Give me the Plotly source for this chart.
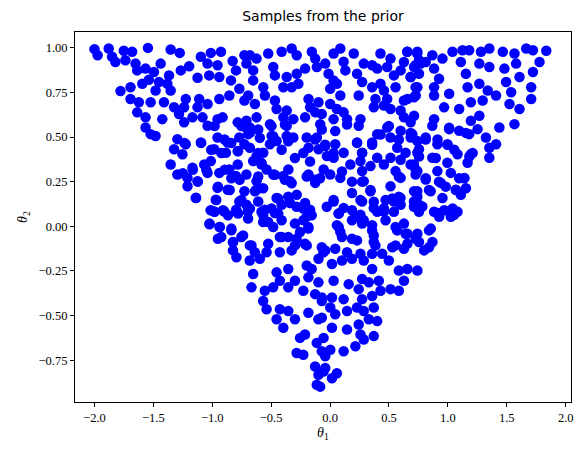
"""
Samples from the prior - scatter
"""
import plotly.graph_objects as go

# samples, grouped by region of the triangle
# upper left
ul_t1 = [-2.0, -1.973, -1.879, -1.85, -1.751, -1.68, -1.546, -1.353, -1.276, -1.822, -1.737, -1.651, -1.637,
         -1.566, -1.495, -1.438, -1.367, -1.267, -1.196, -1.097, -1.012, -0.926, -1.04, -0.955, -0.827, -0.727,
         -0.798, -1.125, -1.026, -0.94, -0.841, -1.779, -1.694, -1.594, -1.538, -1.452, -1.381, -1.694, -1.623,
         -1.523, -1.637, -1.566, -1.566, -1.523, -1.481, -1.424, -1.481, -1.353, -1.41, -1.324, -1.282, -1.225,
         -1.239, -1.168, -1.239, -1.111, -1.125, -1.04, -1.083, -1.04, -0.955, -0.912, -0.94, -0.855, -0.77,
         -0.727, -0.784, -0.713, -0.77, -0.869, -0.955, -0.983, -0.884, -0.784, -0.727, -1.296, -1.225, -1.324,
         -1.253, -1.353, -1.296, -1.168, -1.21, -1.125, -1.21, -1.097, -1.012, -1.068, -1.04, -0.94, -0.855,
         -0.784, -0.798, -0.955, -0.869, -0.97, -1.14, -0.77, -0.727, -0.983, -0.898, -0.798, -0.699]
ul_t2 = [0.992, 0.958, 0.996, 0.949, 0.983, 0.977, 0.999, 0.99, 0.971, 0.92, 0.93, 0.911, 0.873,
         0.883, 0.864, 0.911, 0.845, 0.873, 0.896, 0.949, 0.971, 0.977, 0.911, 0.902, 0.926, 0.958,
         0.873, 0.832, 0.845, 0.836, 0.817, 0.757, 0.779, 0.798, 0.821, 0.808, 0.798, 0.713, 0.695,
         0.695, 0.638, 0.61, 0.553, 0.516, 0.506, 0.6, 0.76, 0.76, 0.695, 0.667, 0.629, 0.713,
         0.667, 0.61, 0.582, 0.713, 0.667, 0.685, 0.61, 0.563, 0.6, 0.61, 0.713, 0.732, 0.77,
         0.704, 0.582, 0.553, 0.497, 0.469, 0.497, 0.431, 0.412, 0.422, 0.459, 0.488, 0.459, 0.431,
         0.403, 0.346, 0.29, 0.328, 0.271, 0.252, 0.224, 0.469, 0.365, 0.346, 0.299, 0.299, 0.318,
         0.346, 0.281, 0.215, 0.205, 0.149, 0.158, 0.139, 0.196, 0.083, 0.083, 0.092, 0.083]

# upper middle
um_t1 = [-0.681, -0.624, -0.525, -0.411, -0.326, -0.283, -0.155, -0.126, 0.03, 0.087, 0.201, 0.286, 0.428,
         0.513, 0.656, 0.741, 0.755, -0.71, -0.653, -0.482, -0.468, -0.368, -0.283, -0.212, -0.112, -0.041,
         -0.013, 0.03, 0.115, 0.13, 0.229, 0.357, 0.4, 0.485, 0.542, 0.599, 0.684, 0.713, 0.769,
         -0.653, -0.695, -0.567, -0.553, -0.397, -0.326, -0.269, -0.183, -0.098, 0.001, 0.058, 0.087, 0.243,
         0.272, 0.357, 0.428, 0.457, 0.385, 0.485, 0.556, 0.656, 0.741, 0.727, -0.638,
         -0.468, -0.454, -0.368, -0.397, -0.312, -0.368, -0.212, -0.169, -0.126, -0.07, -0.084, 0.001, 0.058,
         0.115, 0.03, 0.144, 0.258, 0.243, 0.371, 0.457, 0.513, 0.599, 0.627, 0.713, -0.71, -0.681, -0.695,
         -0.51, -0.624,
         -0.496, -0.454, -0.51, -0.567, -0.624, -0.368, -0.312, -0.198, -0.183, -0.112, -0.098, -0.041, -0.027,
         0.044, 0.03, 0.115, 0.229, 0.272, 0.357, 0.4, 0.485, 0.513, 0.599, 0.684, 0.741, 0.57, 0.641, 0.741,
         -0.681, -0.653,
         -0.582, -0.539, -0.482, -0.397, -0.34, -0.354, -0.183, -0.126, -0.055, 0.001, 0.087, 0.172, 0.258,
         0.272, 0.286, 0.343, 0.4, 0.457, 0.513, 0.556, 0.599, 0.684, 0.741, -0.71, -0.624,
         -0.638, -0.61, -0.553, -0.454, -0.411, -0.34, -0.283, -0.212, -0.169, -0.198, 0.03, 0.115, 0.186,
         0.272, 0.258, 0.343, 0.371, 0.457, 0.513, 0.542, 0.599, 0.713, 0.755, -0.71, -0.468]
um_t2 = [0.958, 0.939, 0.968, 0.977, 0.996, 0.958, 0.977, 0.939, 0.968, 0.996, 0.968, 0.911, 0.968,
         0.939, 0.977, 0.977, 0.93, 0.911, 0.873, 0.892, 0.845, 0.836, 0.854, 0.883, 0.892, 0.911,
         0.854, 0.817, 0.921, 0.873, 0.854, 0.902, 0.883, 0.892, 0.845, 0.873, 0.836, 0.892, 0.911,
         0.817, 0.732, 0.779, 0.732, 0.779, 0.779, 0.798, 0.713, 0.695, 0.77, 0.798, 0.732, 0.732,
         0.808, 0.779, 0.798, 0.76, 0.713, 0.713, 0.779, 0.713, 0.779, 0.732, 0.685,
         0.704, 0.657, 0.648, 0.61, 0.6, 0.563, 0.61, 0.667, 0.638, 0.629, 0.572, 0.685, 0.657,
         0.638, 0.6, 0.6, 0.6, 0.563, 0.667, 0.676, 0.657, 0.648, 0.61, 0.619, 0.591, 0.553, 0.516,
         0.572, 0.61,
         0.506, 0.478, 0.459, 0.412, 0.393, 0.506, 0.497, 0.497, 0.44, 0.497, 0.431, 0.45, 0.393,
         0.459, 0.384, 0.412, 0.469, 0.412, 0.469, 0.516, 0.553, 0.497, 0.535, 0.497, 0.478, 0.44, 0.412, 0.412,
         0.44, 0.365,
         0.346, 0.318, 0.29, 0.281, 0.252, 0.318, 0.29, 0.243, 0.318, 0.29, 0.271, 0.346, 0.365,
         0.309, 0.252, 0.337, 0.384, 0.346, 0.384, 0.309, 0.271, 0.346, 0.309, 0.29, 0.252,
         0.196, 0.139, 0.092, 0.158, 0.121, 0.13, 0.177, 0.13, 0.092, 0.055, 0.139, 0.102, 0.186,
         0.139, 0.064, 0.196, 0.102, 0.083, 0.224, 0.139, 0.121, 0.196, 0.121, 0.121, 0.074]

# upper right
ur_t1 = [0.655, 0.74, 0.627, 0.726, 0.812, 0.868, 0.883, 0.954, 1.039, 1.124, 1.181, 1.11, 1.153, 1.281,
         1.352, 1.267, 1.352, 1.466, 1.565, 1.665, 1.722, 1.835, 1.778, 1.579, 1.48, 1.608, 1.722, 0.684,
         0.755, 0.925, 0.883, 1.011, 1.167, 1.267, 1.338, 1.409, 1.494, 1.537, 1.707, 1.707, 1.523, 1.608,
         1.565, 1.437, 0.726, 0.712, 0.627, 0.883, 0.968, 1.096, 1.195, 1.295, 1.267, 1.195, 0.883, 0.868,
         1.011, 1.096, 1.181, 1.252, 1.323, 1.409, 1.352, 1.352, 1.195, 1.167, 1.082, 0.996, 0.911, 0.812,
         0.698, 0.684, 0.755, 0.712, 0.726, 0.868, 0.911, 0.996, 1.025, 1.139, 0.812, 0.94, 0.854, 0.954,
         1.068, 1.11, 0.74, 0.712, 0.783, 0.598, 0.911, 1.011, 1.053]
ur_t2 = [0.977, 0.968, 0.92, 0.902, 0.92, 0.958, 0.883, 0.939, 0.977, 0.986, 0.986, 0.92, 0.854, 0.977,
         0.996, 0.911, 0.892, 0.977, 0.968, 0.996, 0.986, 0.983, 0.92, 0.911, 0.883, 0.836, 0.864, 0.836,
         0.854, 0.826, 0.779, 0.742, 0.779, 0.798, 0.76, 0.732, 0.808, 0.751, 0.779, 0.713, 0.685, 0.657,
         0.572, 0.553, 0.779, 0.723, 0.704, 0.732, 0.666, 0.657, 0.695, 0.704, 0.619, 0.591, 0.6, 0.563,
         0.544, 0.535, 0.516, 0.544, 0.497, 0.459, 0.44, 0.384, 0.403, 0.356, 0.403, 0.459, 0.459, 0.497,
         0.516, 0.582, 0.431, 0.346, 0.29, 0.384, 0.309, 0.356, 0.299, 0.271, 0.262, 0.243, 0.196, 0.158,
         0.205, 0.177, 0.196, 0.139, 0.111, 0.158, 0.074, 0.083, 0.064]

# centre band, left of theta1 = 0
cl_t1 = [-1.236, -1.094, -0.98, -1.009, -0.895, -0.838, -0.781, -0.923, -0.753, -0.681, -0.61, -0.596,
         -0.61, -0.582, -0.497, -0.483, -0.383, -0.355, -0.411, -0.298, -0.227, -0.17, -0.127, -0.07, -0.042,
         -1.25, -1.165, -1.122, -1.051, -0.895, -0.838, -0.767, -0.952, -0.852, -0.61, -0.625, -0.568, -0.468,
         -0.383, -0.326, -0.198, -0.127, -0.085, -0.355, -0.44, -0.497, -0.582, -0.681, -0.753, -0.966,
         -1.137, -1.014, -0.909, -0.795, -1.023, -0.937, -0.838, -0.738, -0.923, -0.824, -0.681, -0.568,
         -0.483, -0.411, -0.284, -0.227, -0.156, -0.184, -0.255, -0.411, -0.298, -0.198, -0.07, -0.028]
cl_t2 = [0.467, 0.467, 0.561, 0.429, 0.486, 0.467, 0.42, 0.41, 0.561, 0.523, 0.542, 0.495,
         0.41, 0.354, 0.561, 0.504, 0.57, 0.476, 0.429, 0.382, 0.41, 0.363, 0.486, 0.542, 0.457,
         0.297, 0.316, 0.25, 0.316, 0.316, 0.269, 0.26, 0.222, 0.203, 0.279, 0.203, 0.213, 0.288,
         0.26, 0.241, 0.279, 0.26, 0.269, 0.166, 0.156, 0.1, 0.081, 0.1, 0.147, 0.147,
         0.16, 0.09, 0.09, 0.09, 0.015, -0.004, -0.013, -0.051, -0.06, -0.089, -0.107, 0.024,
         -0.004, 0.034, 0.109, 0.1, 0.062, -0.004, -0.032, -0.06, -0.107, -0.107, -0.117, 0.109]

# centre band, right of theta1 = 0
cr_t1 = [0.044, 0.03, 0.144, 0.229, 0.272, 0.357, 0.428, 0.499, 0.584, 0.599, 0.584, 0.684, 0.755, 0.727,
         0.812, 0.897, 0.912, 0.997, 1.054, 1.011, 1.153, 1.182, 1.21, 0.101, 0.186, 0.272, 0.343, 0.257,
         0.371, 0.471, 0.528, 0.457, 0.584, 0.812, 0.925, 0.982, 0.84, 1.096, 1.139, 1.068, 1.153, 1.04,
         0.969, 0.926, 0.883, 0.741, 0.712, 0.03, 0.073, 0.186, 0.186, 0.272, 0.357, 0.073, 0.101, 0.229,
         0.385, 0.556, 0.641, 0.727, 0.84, 0.84, 0.556]
cr_t2 = [0.533, 0.41, 0.57, 0.467, 0.41, 0.457, 0.514, 0.561, 0.486, 0.373, 0.279, 0.523, 0.391, 0.316,
         0.486, 0.382, 0.486, 0.457, 0.429, 0.552, 0.523, 0.391, 0.41, 0.307, 0.25, 0.25, 0.203, 0.147,
         0.137, 0.147, 0.156, 0.1, 0.166, 0.269, 0.25, 0.222, 0.203, 0.269, 0.269, 0.203, 0.213, 0.1,
         0.09, 0.071, 0.081, 0.166, 0.109, 0.147, 0.071, 0.09, 0.034, 0.024, -0.023, -0.004, -0.06, -0.079,
         -0.107, -0.004, -0.042, -0.07, -0.023, -0.117, -0.107]

# lower left half
ll_t1 = [-0.98, -0.866, -0.781, -0.696, -0.568, -0.44, -1.023, -0.937, -0.838, -0.952, -0.824, -0.753,
         -0.824, -0.795, -0.667, -0.639, -0.682, -0.596, -0.525, -0.539, -0.426, -0.355, -0.426, -0.326,
         -0.284, -0.213, -0.227, -0.184, -0.525, -0.298, -0.653, -0.667, -0.554, -0.483, -0.568, -0.539,
         -0.426, -0.454, -0.397, -0.355, -0.298, -0.454, -0.426, -0.355, -0.298, -0.355, -0.227, -0.184,
         -0.156, -0.099, -0.127, -0.07, -0.056, -0.198, -0.184, -0.099, -0.255, -0.213, -0.284, -0.227,
         -0.113, -0.07, -0.127, -0.099, -0.113, -0.056]
ll_t2 = [0.081, 0.062, 0.071, 0.043, 0.062, 0.071, 0.011, -0.004, -0.022, -0.07, -0.088, -0.06,
         -0.135, -0.173, -0.107, -0.145, -0.192, -0.182, -0.098, -0.145, -0.06, -0.06, -0.145, -0.135,
         -0.07, -0.098, 0.034, -0.013, 0.024, 0.015, -0.267, -0.342, -0.361, -0.342, -0.418, -0.465,
         -0.465, -0.521, -0.568, -0.474, -0.521, -0.258, -0.305, -0.239, -0.305, -0.342, -0.361, -0.286,
         -0.239, -0.314, -0.38, -0.418, -0.145, -0.22, -0.484, -0.521, -0.625, -0.606, -0.71, -0.719,
         -0.653, -0.7, -0.785, -0.832, -0.888, -0.813]

# lower right half
lr_t1 = [0.073, 0.215, 0.286, 0.4, 0.471, 0.542, 0.755, 0.926, 1.025, 1.082, 0.058, 0.087, 0.186, 0.272,
         0.357, 0.371, 0.371, 0.57, 0.627, 0.656, 0.741, 0.855, 0.755, 0.869, 0.528, 0.656, 0.627, 0.798,
         -0.041, 0.044, 0.144, 0.258, 0.357, 0.442, 0.499, -0.098, 0.016, 0.101, 0.186, 0.286, 0.357,
         0.584, 0.656, 0.741, 0.414, 0.627, 0.03, 0.158, 0.272, 0.243, 0.329, 0.428, 0.584, 0.513,
         -0.07, 0.016, 0.115, 0.272, 0.357, 0.371, 0.002, 0.044, 0.144, 0.229, 0.286, 0.329, 0.4,
         -0.07, 0.243, 0.144, 0.016, 0.258, 0.371, 0.286, 0.215, -0.055, 0.002, 0.115, -0.041, 0.058,
         0.016, -0.041, -0.084]
lr_t2 = [0.071, 0.053, 0.034, 0.081, 0.034, 0.081, 0.081, 0.053, 0.053, 0.081, 0.006, -0.032, -0.07, 0.015,
         0.006, -0.051, -0.088, -0.023, 0.015, -0.042, -0.042, -0.013, -0.088, -0.088, -0.117, -0.098, -0.126,
         -0.135, -0.135, -0.126, -0.145, -0.154, -0.154, -0.154, -0.192, -0.182, -0.211, -0.192, -0.182,
         -0.192, -0.239, -0.248, -0.239, -0.248, -0.305, -0.305, -0.305, -0.324, -0.295, -0.352, -0.314,
         -0.361, -0.361, -0.352, -0.399, -0.399, -0.408, -0.408, -0.39, -0.455, -0.455, -0.493, -0.474,
         -0.455, -0.474, -0.521, -0.531, -0.512, -0.55, -0.578, -0.568, -0.606, -0.615, -0.634, -0.672,
         -0.625, -0.691, -0.7, -0.728, -0.823, -0.851, -0.794, -0.898]

theta1 = ul_t1 + um_t1 + ur_t1 + cl_t1 + cr_t1 + ll_t1 + lr_t1
theta2 = ul_t2 + um_t2 + ur_t2 + cl_t2 + cr_t2 + ll_t2 + lr_t2

fig = go.Figure()

fig.add_trace(
    go.Scatter(x=theta1, y=theta2, mode='markers',
               marker=dict(color='#0000ff', size=10.5, line=dict(width=0)),
               showlegend=False))

axis_style = dict(showline=True, linecolor='black', linewidth=1, mirror=True,
                  ticks='outside', ticklen=4, tickcolor='black', showgrid=False,
                  zeroline=False, automargin=False,
                  tickfont=dict(family='Liberation Serif', size=12.5, color='black'))

# page body has an 8px margin, so the figure is a bit smaller than the window
fig.update_layout(
    width=568, height=439,
    margin=dict(l=67, r=5, t=24, b=45),
    paper_bgcolor='white', plot_bgcolor='white',
    font=dict(family='Liberation Serif', color='black'),
    title=dict(text='Samples from the prior', x=0.5, xref='paper', xanchor='center',
               y=0.981, yanchor='middle', font=dict(family='DejaVu Sans', size=14)),
    xaxis=dict(range=[-2.165, 2.045], tickvals=[-2, -1.5, -1, -0.5, 0, 0.5, 1, 1.5, 2], tickformat='.1f',
               title=dict(text='<i>θ</i><sub>1</sub>', font=dict(size=14), standoff=3), **axis_style),
    yaxis=dict(range=[-0.984, 1.088], tickvals=[-0.75, -0.5, -0.25, 0, 0.25, 0.5, 0.75, 1.0], tickformat='.2f',
               title=dict(text='<i>θ</i><sub>2</sub>', font=dict(size=14), standoff=7), **axis_style),
)

fig.write_html("out.html")
